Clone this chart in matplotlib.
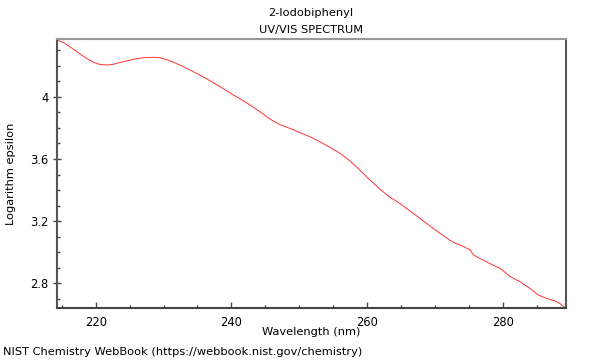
import matplotlib
matplotlib.use("Agg")
import matplotlib.pyplot as plt
from matplotlib.ticker import MultipleLocator, FuncFormatter

wavelength = [214.3, 215.5, 216.5, 217.6, 218.6, 219.6, 220.6, 221.6, 222.5, 223.5, 224.5,
              225.5, 226.5, 227.5, 228.5, 229.4, 230.4, 231.4, 232.4, 233.4, 234.3, 235.3,
              236.3, 237.3, 238.3, 239.3, 240.2, 241.2, 242.7, 244.2, 245.6, 247.1, 248.6,
              250.0, 251.5, 253.0, 254.5, 256.0, 257.4, 258.9, 260.4, 261.9, 263.3, 264.8,
              266.3, 267.8, 269.2, 270.7, 272.2, 273.0, 274.2, 275.2, 275.65, 276.6, 278.1,
              279.6, 281.1, 282.5, 284.0, 285.2, 286.5, 287.7, 288.5, 289.2]
log_eps = [4.368, 4.345, 4.315, 4.280, 4.250, 4.225, 4.210, 4.206, 4.210, 4.222, 4.232,
           4.242, 4.250, 4.255, 4.256, 4.254, 4.242, 4.225, 4.206, 4.185, 4.165, 4.142,
           4.118, 4.093, 4.067, 4.040, 4.015, 3.990, 3.950, 3.905, 3.860, 3.822, 3.798,
           3.772, 3.745, 3.712, 3.675, 3.637, 3.590, 3.530, 3.465, 3.405, 3.355, 3.314,
           3.265, 3.217, 3.170, 3.122, 3.075, 3.056, 3.035, 3.013, 2.981, 2.959, 2.925,
           2.895, 2.841, 2.809, 2.765, 2.723, 2.700, 2.684, 2.665, 2.639]

title_lines = ["2-Iodobiphenyl", "UV/VIS SPECTRUM"]
x_label = "Wavelength (nm)"
y_label = "Logarithm epsilon"
footer = "NIST Chemistry WebBook (https://webbook.nist.gov/chemistry)"

fig = plt.figure(figsize=(6, 3.6), dpi=100)
ax = fig.add_axes([57/600, 1-308/360, (566-57)/600, (308-39)/360])
ax.plot(wavelength, log_eps, color="#ff3333", lw=0.7)
ax.set_xlim(214.3, 289.3)
ax.set_ylim(2.639, 4.374)

ax.xaxis.set_major_locator(MultipleLocator(20))
ax.xaxis.set_minor_locator(MultipleLocator(5))
ax.yaxis.set_major_locator(MultipleLocator(0.4))
ax.yaxis.set_minor_locator(MultipleLocator(0.1))
ax.yaxis.set_major_formatter(FuncFormatter(lambda v, p: f"{v:.1f}".rstrip("0").rstrip(".")))

ax.tick_params(axis="x", which="major", direction="in", length=4, width=1, colors="#444444", labelsize=8.3, labelcolor="black", pad=6)
ax.tick_params(axis="x", which="minor", direction="in", length=2, width=1, colors="#444444")
ax.tick_params(axis="y", which="major", direction="inout", length=6, width=1, colors="#444444", labelsize=8.3, labelcolor="black", pad=3)
ax.tick_params(axis="y", which="minor", direction="in", length=2.5, width=1, colors="#444444")

for s, c in [("left", "#555555"), ("bottom", "#444444"), ("top", "#999999"), ("right", "#555555")]:
    ax.spines[s].set_color(c)
    ax.spines[s].set_linewidth(1.5)

fs = 8.2
fig.text(311/600, 1-13/360, title_lines[0], ha="center", va="center", fontsize=fs)
fig.text(311/600, 1-30/360, title_lines[1], ha="center", va="center", fontsize=fs)
fig.text(311/600, 1-332/360, x_label, ha="center", va="center", fontsize=fs)
fig.text(11/600, 1-174/360, y_label, ha="center", va="center", rotation=90, fontsize=fs)
fig.text(3/600, 1-352/360, footer, ha="left", va="center", fontsize=fs)

fig.savefig("out.png", dpi=100)
